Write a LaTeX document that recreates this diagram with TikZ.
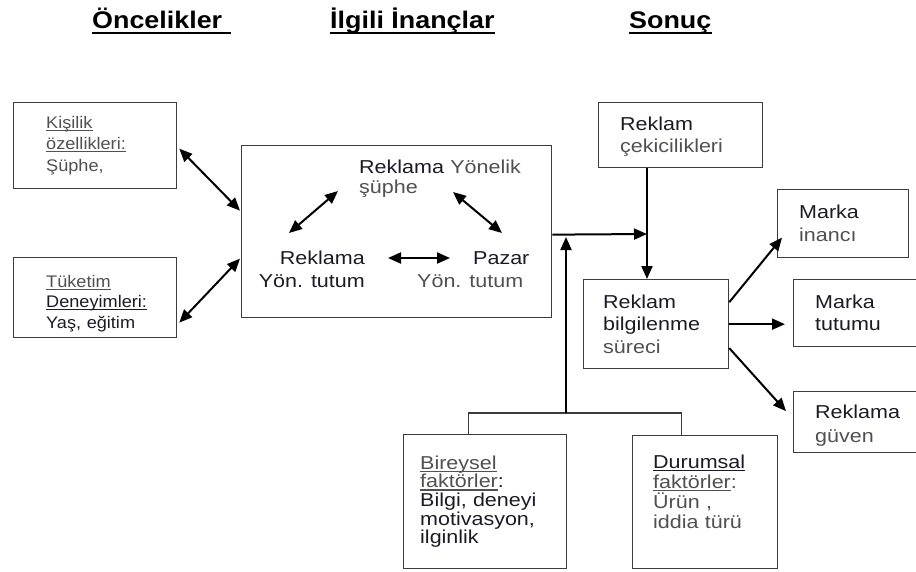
\documentclass[tikz,border=0pt]{standalone}
\usepackage{fontspec}
\setmainfont{Liberation Sans}
\newfontfamily\sidefont{Liberation Sans}[FakeStretch=1.08]
\newfontfamily\bodyfont{Liberation Sans}[FakeStretch=1.15]
\newfontfamily\headfont{Liberation Sans}[FakeStretch=1.12]
\usetikzlibrary{arrows.meta}

\definecolor{ink}{HTML}{1B1B26}
\definecolor{soft}{HTML}{505050}
\definecolor{frame}{HTML}{3C3C3C}

\hyphenpenalty=10000
\exhyphenpenalty=10000

% thin underline at a fixed depth below the baseline
\newcommand\uln[1]{\leavevmode\setbox0\hbox{#1}%
  \rlap{\vrule width \wd0 height -1.7pt depth 2.8pt}\box0}

\begin{document}
\begin{tikzpicture}[x=1pt,y=-1pt,
  box/.style={draw=frame,line width=1.3pt,anchor=north west,inner sep=0pt},
  head/.style={anchor=base west,inner sep=0pt,text=black,
    font=\headfont\bfseries\fontsize{24}{28}\selectfont},
  headrule/.style={draw=black,line width=2.8pt},
  sidetxt/.style={anchor=base west,inner sep=0pt,text width=220pt,align=left,
    text=ink,font=\sidefont\fontsize{16.8}{#1}\selectfont},
  sidetxt/.default=21,
  bodytxt/.style={anchor=base west,inner sep=0pt,text width=220pt,align=left,
    text=ink,font=\bodyfont\fontsize{18.7}{#1}\selectfont},
  bodytxt/.default=22,
  one/.style={anchor=base west,inner sep=0pt,text=ink,
    font=\bodyfont\fontsize{18.7}{22}\selectfont},
  plain/.style={draw=frame,line width=1.3pt},
  tip/.style={},
  arr/.style={draw=black,line width=2pt,-{Triangle[length=13pt,width=11pt]}},
  dbl/.style={draw=black,line width=2pt,
    {Triangle[length=13pt,width=11pt]}-{Triangle[length=13pt,width=11pt]}}
]
\useasboundingbox (0,0) rectangle (916,571);
\clip (0,0) rectangle (916,571);

% column headings
\node[head] (h1) at (92,28) {Öncelikler};
\node[head] (h2) at (330,28) {İlgili İnançlar};
\node[head] (h3) at (629,28) {Sonuç};
\draw[headrule] ([yshift=-5pt]h1.base west) -- ([yshift=-5pt,xshift=9pt]h1.base east);
\draw[headrule] ([yshift=-5pt]h2.base west) -- ([yshift=-5pt]h2.base east);
\draw[headrule] ([yshift=-5pt]h3.base west) -- ([yshift=-5pt]h3.base east);

% frames
\node[box,minimum width=163pt,minimum height=86pt] (kis) at (13,102) {};
\node[box,minimum width=163pt,minimum height=80pt] (tuk) at (13,257) {};
\node[box,minimum width=310pt,minimum height=172pt] (ana) at (241,145) {};
\node[box,minimum width=164pt,minimum height=65pt] (cek) at (598,102) {};
\node[box,minimum width=145pt,minimum height=89pt] (bil) at (583,279) {};
\node[box,minimum width=131pt,minimum height=68pt] (inc) at (777,189) {};
\node[box,minimum width=140pt,minimum height=67pt] (tut) at (793,279) {};
\node[box,minimum width=140pt,minimum height=61pt] (guv) at (793,391) {};
\node[box,minimum width=163pt,minimum height=134pt] (bir) at (403,434) {};
\node[box,minimum width=145pt,minimum height=133pt] (dur) at (632,435) {};

% texts of the antecedents
\node[sidetxt=21.5,text=soft] (kist) at (46,128)
  {\uln{Kişilik}\\\uln{özellikleri:}\\Şüphe,};
\node[sidetxt=20.5] (tukt) at (46,287)
  {\textcolor{soft}{\uln{Tüketim}}\\\uln{Deneyimleri:}\\Yaş, eğitim};

% texts of the beliefs
\node[bodytxt=20] (sup) at (359,173)
  {Reklama \textcolor{soft}{Yönelik}\\\textcolor{soft}{şüphe}};
\node[one,anchor=base east] (rk) at (365,264) {Reklama};
\node[one,anchor=base east] (rkt) at (365,287) {Yön. tutum};
\node[one] (pz) at (473,264) {Pazar};
\node[one,text=soft] (pzt) at (417,287) {Yön. tutum};

% texts of the outcomes
\node[bodytxt=22] (cekt) at (620,130) {Reklam\\\textcolor{soft}{çekicilikleri}};
\node[bodytxt=22.5] (bilt) at (603,308) {Reklam\\bilgilenme\\\textcolor{soft}{süreci}};
\node[bodytxt=23] (inct) at (799,218) {Marka\\\textcolor{soft}{inancı}};
\node[bodytxt=22] (tutt) at (815,308) {Marka\\tutumu};
\node[bodytxt=24] (guvt) at (815,418) {Reklama\\\textcolor{soft}{güven}};
\node[bodytxt=18.7] (birt) at (420,469)
  {\textcolor{soft}{\uln{Bireysel}}\\\textcolor{soft}{\uln{faktörler}}:\\Bilgi, deneyi\\motivasyon,\\ilginlik};
\node[bodytxt=20] (durt) at (653,468)
  {\uln{Durumsal}\\\textcolor{soft}{\uln{faktörler}:}\\\textcolor{soft}{Ürün ,}\\\textcolor{soft}{iddia türü}};

% junction points
\coordinate (j) at (647,234);
\coordinate (fork) at (566,413);

% antecedents <-> beliefs
\draw[dbl] ([shift={(2,3)}]kis.east) -- ([shift={(-1,-21)}]ana.west);
\draw[dbl] ([shift={(-1,27)}]ana.west) -- ([shift={(2,25)}]tuk.east);

% links among the beliefs
\draw[dbl] ([shift={(48,88)}]ana.north west) -- ([shift={(97,46)}]ana.north west);
\draw[dbl] ([shift={(212,47)}]ana.north west) -- ([shift={(261,88)}]ana.north west);
\draw[dbl] ([shift={(147,113)}]ana.north west) -- ([shift={(209,113)}]ana.north west);

% beliefs and appeals into the processing box
\draw[arr] ([yshift=-3pt]ana.east) -- (j);
\draw[arr] (cek.south -| j) -- (bil.north -| j);

% moderating factors
\draw[plain] ([xshift=-17pt]bir.north) |- (fork) -| ([xshift=-24pt]dur.north);
\draw[arr,shorten >=3pt] (fork) -- (fork |- j);

% processing -> outcomes
\draw[arr] ([yshift=22pt]bil.east) -- ([shift={(5,14)}]inc.west);
\draw[arr,shorten >=8pt] (bil.east) -- (bil.east -| tut.west);
\draw[arr] ([yshift=-24pt]bil.east) -- ([shift={(-7,-11)}]guv.west);
\end{tikzpicture}
\end{document}
